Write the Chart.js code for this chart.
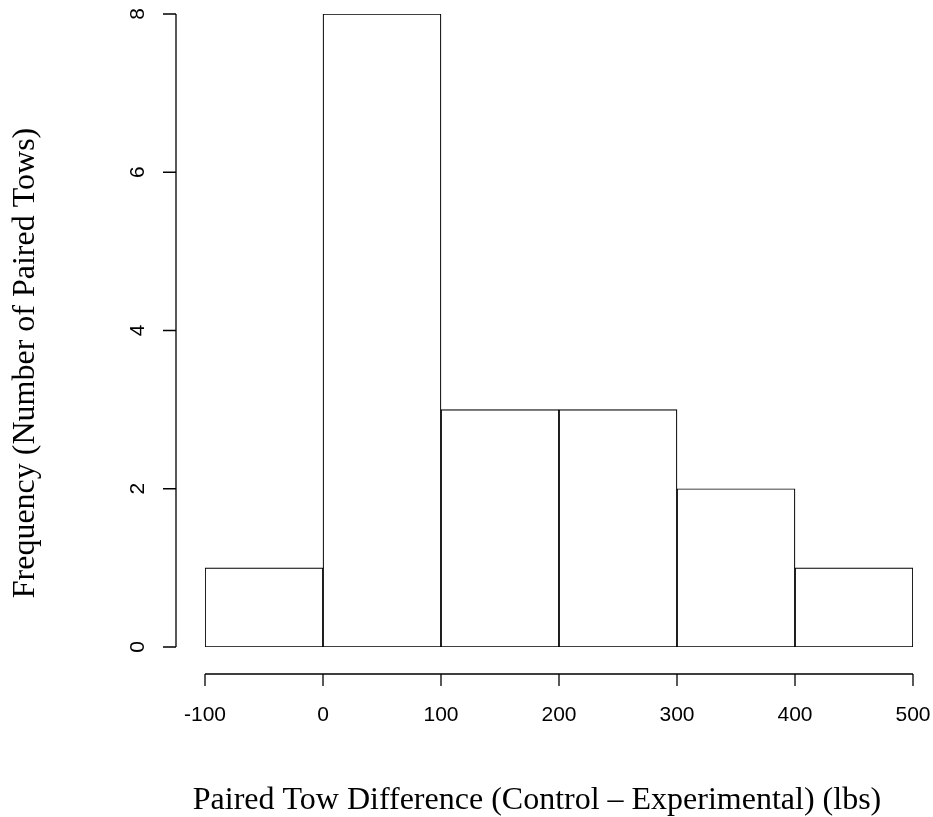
<!DOCTYPE html>
<html>
<head>
<meta charset="utf-8">
<title>Paired Tow Difference histogram</title>
<script src="https://cdn.jsdelivr.net/npm/chart.js@4"></script>
<style>
  html, body { margin: 0; padding: 0; background: #fff; }
  #wrap { width: 933px; height: 817px; position: relative; }
</style>
</head>
<body>
<div id="wrap"><canvas id="chart-hist" width="933" height="817"></canvas></div>
<script>
// --- Data
var binEdges = [-100, 0, 100, 200, 300, 400, 500];
var counts = [1, 8, 3, 3, 2, 1];
var xTicks = [-100, 0, 100, 200, 300, 400, 500];
var yTicks = [0, 2, 4, 6, 8];
var xTitle = "Paired Tow Difference (Control \u2013 Experimental) (lbs)";
var yTitle = "Frequency (Number of Paired Tows)";

(function () {
  "use strict";

  var tickFont = "21px 'Liberation Sans', Arial, Helvetica, sans-serif";
  var titleFont = "32px 'Liberation Serif', 'Times New Roman', Times, serif";

  var bars = counts.map(function (c, i) {
    return { x: (binEdges[i] + binEdges[i + 1]) / 2, y: c };
  });

  // --- R-style detached axes drawn from the chart's own scales
  var baseAxes = {
    id: "baseAxes",
    afterDraw: function (chart) {
      var ctx = chart.ctx;
      var xs = chart.scales.x;
      var ys = chart.scales.y;
      var axisY = 674;   // x axis line, below the plot
      var axisX = 176;   // y axis line, left of the plot
      ctx.save();
      ctx.strokeStyle = "#000";
      ctx.fillStyle = "#000";
      ctx.lineWidth = 1.3;

      // x axis
      var x0 = xs.getPixelForValue(xTicks[0]);
      var x1 = xs.getPixelForValue(xTicks[xTicks.length - 1]);
      ctx.beginPath();
      ctx.moveTo(x0, axisY);
      ctx.lineTo(x1, axisY);
      xTicks.forEach(function (v) {
        var px = xs.getPixelForValue(v);
        ctx.moveTo(px, axisY);
        ctx.lineTo(px, axisY + 12);
      });
      ctx.stroke();
      ctx.font = tickFont;
      ctx.textAlign = "center";
      ctx.textBaseline = "middle";
      xTicks.forEach(function (v) {
        ctx.fillText(String(v), xs.getPixelForValue(v), 715);
      });

      // y axis
      var y0 = ys.getPixelForValue(yTicks[0]);
      var y1 = ys.getPixelForValue(yTicks[yTicks.length - 1]);
      ctx.beginPath();
      ctx.moveTo(axisX, y0);
      ctx.lineTo(axisX, y1);
      yTicks.forEach(function (v) {
        var py = ys.getPixelForValue(v);
        ctx.moveTo(axisX, py);
        ctx.lineTo(axisX - 13, py);
      });
      ctx.stroke();
      yTicks.forEach(function (v) {
        ctx.save();
        ctx.translate(138, ys.getPixelForValue(v));
        ctx.rotate(-Math.PI / 2);
        ctx.fillText(String(v), 0, 0);
        ctx.restore();
      });

      // titles
      ctx.textBaseline = "alphabetic";
      ctx.font = titleFont;
      ctx.fillText(xTitle, 537, 809);
      ctx.save();
      ctx.translate(34, 363);
      ctx.rotate(-Math.PI / 2);
      ctx.fillText(yTitle, 0, 0);
      ctx.restore();
      ctx.restore();
    }
  };

  var histCtx = document.getElementById("chart-hist");
  new Chart(histCtx, {
    type: "bar",
    data: {
      datasets: [
        {
          data: bars,
          backgroundColor: "#ffffff",
          borderColor: "#000000",
          borderWidth: 1.2,
          borderSkipped: false,
          barPercentage: 1,
          categoryPercentage: 1,
        },
      ],
    },
    options: {
      responsive: false,
      animation: false,
      layout: { padding: { left: 205, right: 20, top: 14, bottom: 170 } },
      plugins: { legend: { display: false }, tooltip: { enabled: false } },
      scales: {
        x: {
          type: "linear",
          display: false,
          offset: false,
          min: binEdges[0],
          max: binEdges[binEdges.length - 1],
        },
        y: { display: false, min: 0, max: 8 },
      },
    },
    plugins: [baseAxes],
  });
})();
</script>
</body>
</html>
